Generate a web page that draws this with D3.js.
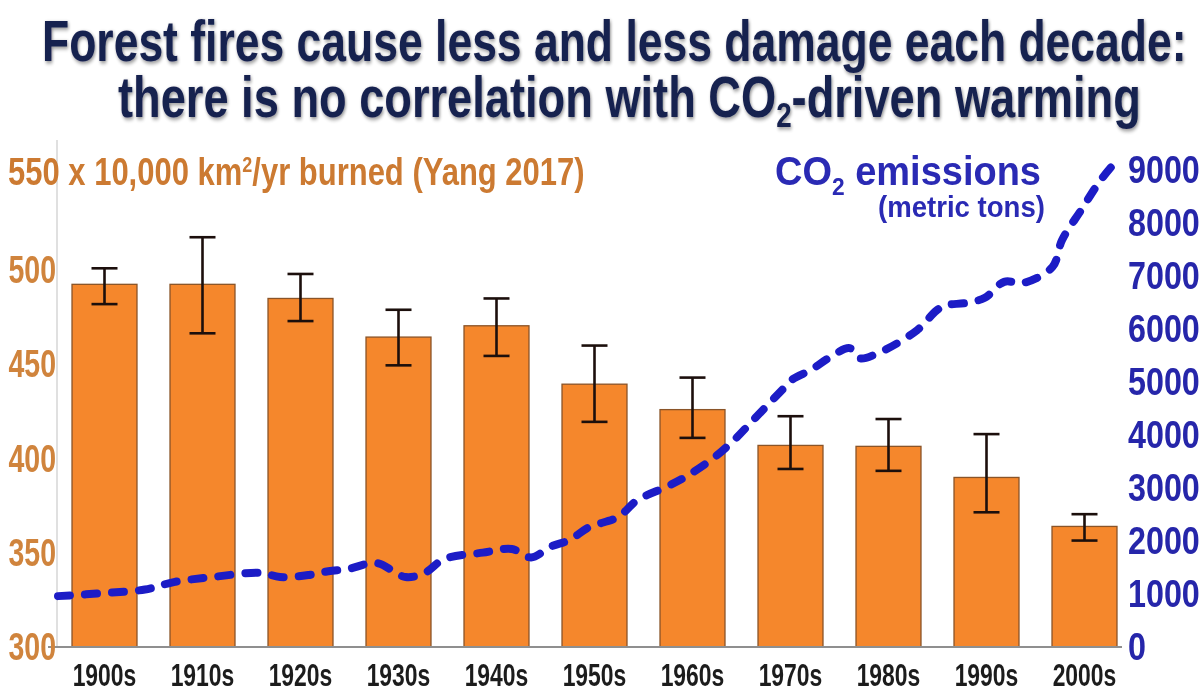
<!DOCTYPE html>
<html>
<head>
<meta charset="utf-8">
<script src="https://cdn.jsdelivr.net/npm/d3@7"></script>
<style>
  html, body { margin: 0; padding: 0; background: #ffffff; }
  svg { display: block; }
  text { font-family: "Liberation Sans", Arial, "DejaVu Sans", sans-serif; font-weight: bold; }
</style>
</head>
<body>
<svg id="chart" width="1203" height="692"></svg>
<script>
// ---------- data ----------
const decades = ["1900s","1910s","1920s","1930s","1940s","1950s","1960s","1970s","1980s","1990s","2000s"];
const burned  = [492.5, 492.5, 485, 464.5, 470.5, 439.5, 426, 407, 406.5, 390, 364];
const errHigh = [501, 517.5, 498, 479, 485, 460, 443, 422.5, 421, 413, 370.5];
const errLow  = [482, 466.5, 473, 449.5, 454.5, 419.5, 411, 394.5, 393.5, 371.5, 356.5];

const co2Years  = [1900,1905,1909,1912,1916,1921,1923,1926,1928,1930,1933,1936,1938,1940,1944,1947,1949,1951,1953,1955,1958,1960,1963,1965,1968,1970,1972,1975,1976,1978,1980,1982,1983,1985,1989,1991,1992,1994,1996,1998,2000,2003,2004,2006,2008,2010];
const co2Values = [960,1020,1085,1225,1320,1400,1320,1360,1430,1470,1585,1320,1400,1660,1780,1850,1690,1890,2020,2260,2450,2770,3020,3210,3580,3900,4280,4850,5040,5230,5470,5640,5450,5550,5980,6350,6450,6490,6590,6890,6870,7170,7680,8250,8810,9250];

const leftTicks  = [300, 350, 400, 450, 500];
const rightTicks = [0,1000,2000,3000,4000,5000,6000,7000,8000,9000];

// ---------- scales ----------
const svg = d3.select("#chart");
const x = d3.scaleBand().domain(decades).range([55.5, 1133.5]).paddingInner(0.337).paddingOuter(0.1685);
const yL = d3.scaleLinear().domain([300, 550]).range([647, 176]);
const yR = d3.scaleLinear().domain([0, 9000]).range([647, 170]);
const xYear = d3.scaleLinear().domain([1900, 2010]).range([58, 1120]);

// filters
const defs = svg.append("defs");
const f = defs.append("filter").attr("id","shadow").attr("x","-5%").attr("y","-20%").attr("width","110%").attr("height","140%");
f.append("feGaussianBlur").attr("in","SourceAlpha").attr("stdDeviation",2.2).attr("result","b");
f.append("feOffset").attr("in","b").attr("dx",1).attr("dy",2).attr("result","o");
f.append("feComponentTransfer").attr("in","o").attr("result","o2")
  .append("feFuncA").attr("type","linear").attr("slope",0.45);
const m = f.append("feMerge");
m.append("feMergeNode").attr("in","o2");
m.append("feMergeNode").attr("in","SourceGraphic");

const g2 = defs.append("filter").attr("id","soft").attr("x","-5%").attr("y","-20%").attr("width","110%").attr("height","140%");
g2.append("feGaussianBlur").attr("in","SourceGraphic").attr("stdDeviation",0.6);

// helper to fit a text horizontally between x0 and x1 at baseline y
function fitText(sel, x0, x1, y) {
  const w = sel.node().getComputedTextLength();
  sel.attr("x", 0).attr("y", 0).attr("text-anchor", "start")
     .attr("transform", `translate(${x0},${y}) scale(${(x1 - x0) / w},1)`);
}

// ---------- title ----------
const t1 = svg.append("text").attr("font-size", 57).attr("fill", "#17204f").attr("filter","url(#shadow)")
  .text("Forest fires cause less and less damage each decade:");
fitText(t1, 42, 1187, 61);
const t2 = svg.append("text").attr("font-size", 57).attr("fill", "#17204f").attr("filter","url(#shadow)");
t2.append("tspan").text("there is no correlation with CO");
t2.append("tspan").attr("font-size", 35).attr("dy", 10).text("2");
t2.append("tspan").attr("dy", -10).text("-driven warming");
fitText(t2, 118, 1141, 117);

// ---------- axes lines ----------
svg.append("line").attr("x1", 57).attr("x2", 57).attr("y1", 140).attr("y2", yL(300))
  .attr("stroke", "#d6d6d6").attr("stroke-width", 1.5);

// ---------- bars ----------
svg.append("g").selectAll("rect").data(decades).join("rect")
  .attr("x", d => x(d))
  .attr("y", (d, i) => yL(burned[i]))
  .attr("width", x.bandwidth())
  .attr("height", (d, i) => yL(300) - yL(burned[i]))
  .attr("fill", "#f5872c")
  .attr("stroke", "#8a5428")
  .attr("stroke-width", 1.3);

// error bars
const eb = svg.append("g").attr("stroke", "#1c0f0c").attr("stroke-width", 2.6);
decades.forEach((d, i) => {
  const cx = x(d) + x.bandwidth() / 2;
  eb.append("line").attr("x1", cx).attr("x2", cx).attr("y1", yL(errHigh[i])).attr("y2", yL(errLow[i]));
  eb.append("line").attr("x1", cx - 13).attr("x2", cx + 13).attr("y1", yL(errHigh[i])).attr("y2", yL(errHigh[i]));
  eb.append("line").attr("x1", cx - 13).attr("x2", cx + 13).attr("y1", yL(errLow[i])).attr("y2", yL(errLow[i]));
});

// baseline
svg.append("line").attr("x1", 48).attr("x2", 1122).attr("y1", yL(300)).attr("y2", yL(300))
  .attr("stroke", "#8f8f8f").attr("stroke-width", 2);

// ---------- CO2 line ----------
const line = d3.line().x((d, i) => xYear(co2Years[i])).y(d => yR(d)).curve(d3.curveCatmullRom.alpha(0.5));
svg.append("path").datum(co2Values)
  .attr("d", line)
  .attr("fill", "none")
  .attr("stroke", "#1c1cc6")
  .attr("stroke-width", 8)
  .attr("stroke-linecap", "round")
  .attr("stroke-dasharray", "12,15");

// ---------- left axis labels ----------
const leftG = svg.append("g").attr("filter","url(#soft)");
leftTicks.forEach(v => {
  leftG.append("text").attr("font-size", 38).attr("fill", "#d0843c").attr("text-anchor", "end")
    .attr("transform", `translate(56,${yL(v) + 13}) scale(0.75,1)`).text(v);
});
// axis title line including "550"
const sub = svg.append("text").attr("font-size", 38).attr("fill", "#cc7a30").attr("filter","url(#soft)");
sub.append("tspan").text("550 x 10,000 km");
sub.append("tspan").attr("font-size", 22).attr("dy", -13).text("2");
sub.append("tspan").attr("dy", 13).text("/yr burned  (Yang 2017)");
fitText(sub, 8, 585, 185);

// ---------- right axis labels ----------
const rightG = svg.append("g").attr("filter","url(#soft)");
rightTicks.forEach(v => {
  rightG.append("text").attr("font-size", 38).attr("fill", "#2626aa").attr("text-anchor", "start")
    .attr("transform", `translate(1128,${yR(v) + 13}) scale(0.85,1)`).text(v);
});

// legend
const lg = svg.append("text").attr("font-size", 40).attr("fill", "#2a2ab4").attr("filter","url(#soft)");
lg.append("tspan").text("CO");
lg.append("tspan").attr("font-size", 24).attr("dy", 10).text("2");
lg.append("tspan").attr("dy", -10).text(" emissions");
fitText(lg, 775, 1041, 185);
const lg2 = svg.append("text").attr("font-size", 30).attr("fill", "#2a2ab4").attr("filter","url(#soft)").text("(metric tons)");
fitText(lg2, 878, 1045, 217);

// ---------- x labels ----------
const xg = svg.append("g").attr("filter","url(#soft)");
decades.forEach(d => {
  xg.append("text").attr("font-size", 31).attr("fill", "#1c1c1c").attr("text-anchor", "middle")
    .attr("transform", `translate(${x(d) + x.bandwidth() / 2},${686}) scale(0.74,1)`).text(d);
});
</script>
</body>
</html>
